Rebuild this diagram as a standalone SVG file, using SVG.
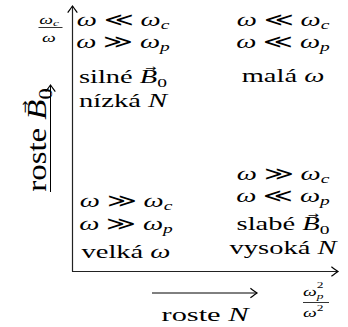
<svg xmlns="http://www.w3.org/2000/svg" width="348" height="327" viewBox="0 0 348 327">
<style>
.t{font-family:"Liberation Serif","DejaVu Serif",serif;font-size:19px;fill:#000}
.it{font-style:italic}
.sub{font-size:13px}
.vec{font-family:"DejaVu Sans",sans-serif;font-size:9px;font-style:normal}
.ax{stroke:#222;stroke-width:1.2;fill:none}
.ar{stroke:#000;stroke-width:1;fill:none}
.bar{stroke:#000;stroke-width:0.8}
</style>
<defs>
<marker id="head" markerUnits="userSpaceOnUse" markerWidth="12" markerHeight="12" refX="0" refY="0" viewBox="-7 -5 8 10" orient="auto">
<path d="M-5.5,-4 Q-1.5,-1 0,0 Q-1.5,1 -5.5,4" fill="none" stroke="#000" stroke-width="1"/>
</marker>
</defs>
<g id="connectors">
<line class="ax" x1="72.5" y1="271.5" x2="72.5" y2="6" marker-end="url(#head)"/>
<line class="ax" x1="72" y1="271.5" x2="338" y2="271.5" marker-end="url(#head)"/>
<line class="ar" x1="50.5" y1="192" x2="50.5" y2="85" marker-end="url(#head)"/>
<line class="ar" x1="152" y1="293" x2="257" y2="293" marker-end="url(#head)"/>
</g>
<g id="axis-y-label">
<g transform="translate(40,0) scale(1.5,1)">
<text class="t" x="6" y="24" text-anchor="middle" style="font-size:13px"><tspan class="it">ω</tspan><tspan class="it" style="font-size:9px" dy="2">c</tspan></text>
<text class="t" x="6" y="42" text-anchor="middle" style="font-size:13px"><tspan class="it">ω</tspan></text>
</g>
<line class="bar" x1="38.5" y1="27.5" x2="62.5" y2="27.5"/>
</g>
<g id="axis-x-label">
<g transform="translate(303,0) scale(1.5,1)">
<text class="t" x="0" y="296" style="font-size:13px"><tspan class="it">ω</tspan><tspan style="font-size:9px" dy="-8">2</tspan><tspan class="it" style="font-size:9px" dx="-4.5" dy="11">p</tspan></text>
<text class="t" x="0" y="317" style="font-size:13px"><tspan class="it">ω</tspan><tspan style="font-size:9px" dy="-6">2</tspan></text>
</g>
<line class="bar" x1="303" y1="302.5" x2="329" y2="302.5"/>
</g>
<g id="q-top-left">
<g transform="translate(123,0) scale(1.5,1)">
<text class="t" x="0" y="26" text-anchor="middle"><tspan class="it">ω</tspan> ≪ <tspan class="it">ω</tspan><tspan class="sub it" dy="3">c</tspan></text>
<text class="t" x="0" y="48" text-anchor="middle"><tspan class="it">ω</tspan> ≫ <tspan class="it">ω</tspan><tspan class="sub it" dy="3">p</tspan></text>
<text class="t" x="0" y="83" text-anchor="middle">silné <tspan class="it">B</tspan><tspan class="vec" dx="-8" dy="-12">→</tspan><tspan class="sub" dx="0.5" dy="16">0</tspan></text>
<text class="t" x="0" y="107" text-anchor="middle">nízká <tspan class="it">N</tspan></text>
</g>
</g>
<g id="q-top-right">
<g transform="translate(283,0) scale(1.5,1)">
<text class="t" x="0" y="26" text-anchor="middle"><tspan class="it">ω</tspan> ≪ <tspan class="it">ω</tspan><tspan class="sub it" dy="3">c</tspan></text>
<text class="t" x="0" y="48" text-anchor="middle"><tspan class="it">ω</tspan> ≪ <tspan class="it">ω</tspan><tspan class="sub it" dy="3">p</tspan></text>
<text class="t" x="0" y="82" text-anchor="middle">malá <tspan class="it">ω</tspan></text>
</g>
</g>
<g id="q-bottom-left">
<g transform="translate(126,0) scale(1.5,1)">
<text class="t" x="0" y="207" text-anchor="middle"><tspan class="it">ω</tspan> ≫ <tspan class="it">ω</tspan><tspan class="sub it" dy="3">c</tspan></text>
<text class="t" x="0" y="230" text-anchor="middle"><tspan class="it">ω</tspan> ≫ <tspan class="it">ω</tspan><tspan class="sub it" dy="3">p</tspan></text>
<text class="t" x="0" y="258" text-anchor="middle">velká <tspan class="it">ω</tspan></text>
</g>
</g>
<g id="q-bottom-right">
<g transform="translate(283,0) scale(1.5,1)">
<text class="t" x="0" y="180" text-anchor="middle"><tspan class="it">ω</tspan> ≫ <tspan class="it">ω</tspan><tspan class="sub it" dy="3">c</tspan></text>
<text class="t" x="0" y="202" text-anchor="middle"><tspan class="it">ω</tspan> ≪ <tspan class="it">ω</tspan><tspan class="sub it" dy="3">p</tspan></text>
<text class="t" x="0" y="230" text-anchor="middle">slabé <tspan class="it">B</tspan><tspan class="vec" dx="-8" dy="-12">→</tspan><tspan class="sub" dx="0.5" dy="16">0</tspan></text>
<text class="t" x="0" y="254" text-anchor="middle">vysoká <tspan class="it">N</tspan></text>
</g>
</g>
<g id="label-roste-N">
<g transform="translate(205,0) scale(1.6,1)">
<text class="t" x="0" y="321" text-anchor="middle">roste <tspan class="it">N</tspan></text>
</g>
</g>
<g id="label-roste-B0">
<g transform="translate(46,140) rotate(-90) scale(1.73,1.4)">
<text class="t" x="0" y="0" text-anchor="middle">roste <tspan class="it">B</tspan><tspan class="vec" dx="-8" dy="-12">→</tspan><tspan class="sub" dx="0.5" dy="16">0</tspan></text>
</g>
</g>
</svg>
